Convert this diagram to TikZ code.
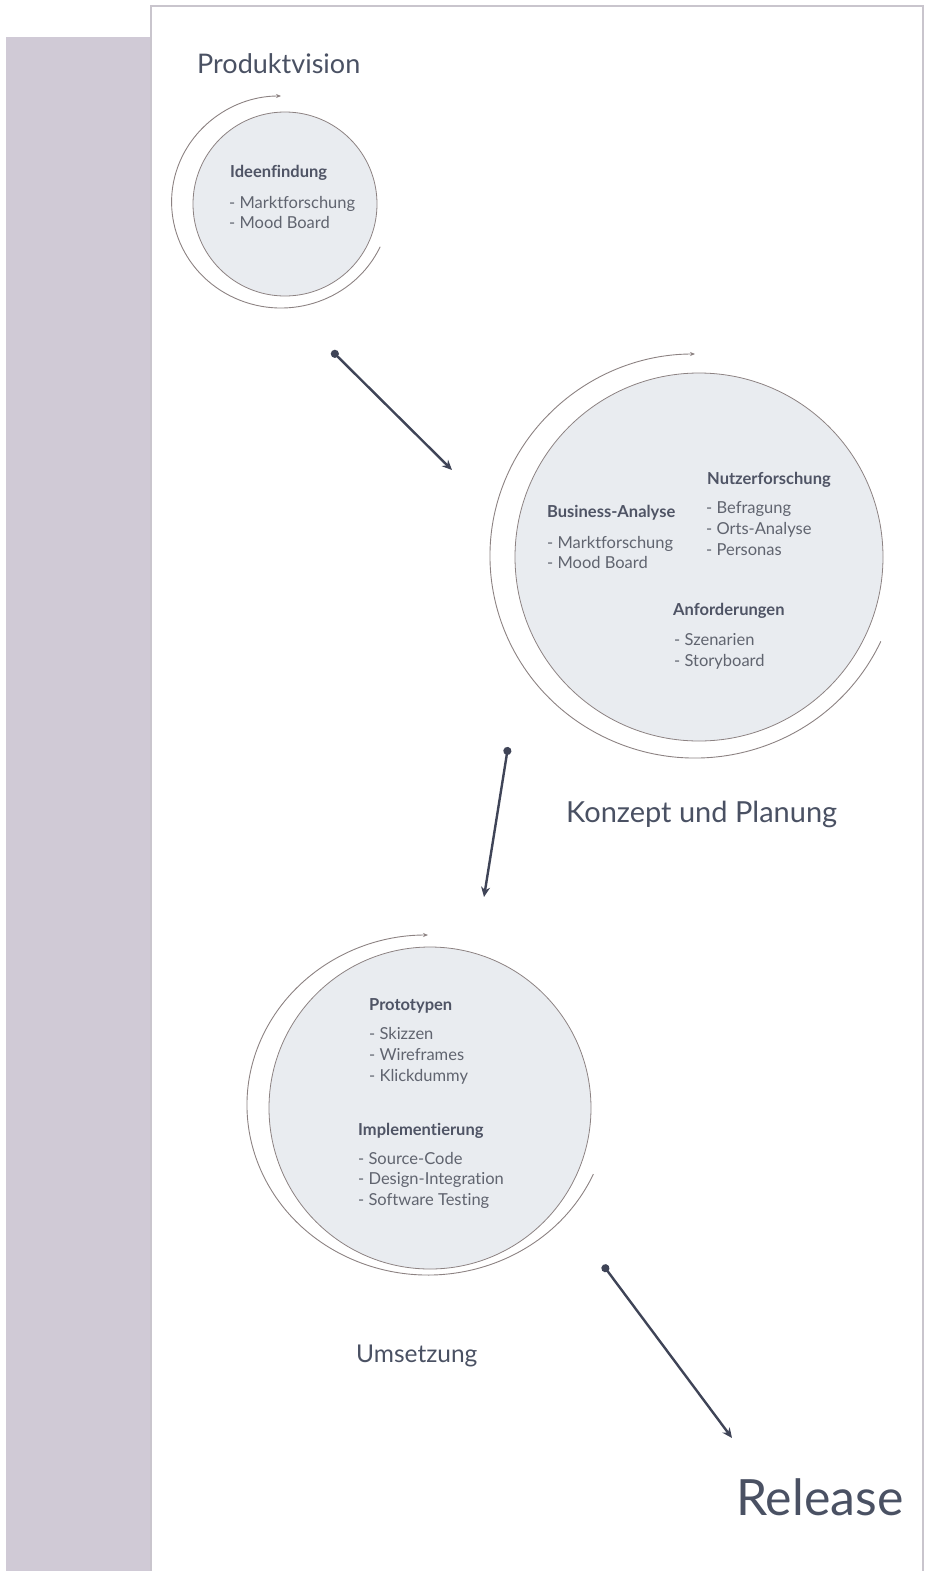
\documentclass[tikz,border=0pt]{standalone}
\usepackage{fontspec}
\setmainfont{Lato}[Ligatures=NoCommon]
\usetikzlibrary{arrows.meta}
\definecolor{side}{HTML}{D0CAD6}
\definecolor{panelline}{HTML}{C9C5CD}
\definecolor{circfill}{HTML}{E9ECF0}
\definecolor{circline}{HTML}{8C8282}
\definecolor{arrowcol}{HTML}{3F4457}
\definecolor{bigtext}{HTML}{4A5163}
\definecolor{headtext}{HTML}{4F5465}
\definecolor{itemtext}{HTML}{60646F}
\begin{document}
\begin{tikzpicture}[x=1pt,y=1pt,
  phase/.style={circle, draw=circline, line width=0.8pt, fill=circfill, inner sep=0pt},
  ring/.style={draw=circline, line width=0.9pt, -{Stealth[length=5pt,width=4pt]}},
  flow/.style={draw=arrowcol, line width=2.4pt, {Circle[length=8pt]}-{Stealth[length=10pt,width=9pt]}},
  biglabel/.style={anchor=base west, inner sep=0pt, text=bigtext},
  head/.style={anchor=base west, inner sep=0pt, text=headtext, font=\fontsize{16.5}{19}\selectfont\bfseries},
  item/.style={anchor=base west, inner sep=0pt, text=itemtext, font=\fontsize{16.5}{19}\selectfont}
]
\useasboundingbox (0,0) rectangle (924,-1571);
% sidebar and panel
\fill[side] (6,-37) rectangle (150,-1571);
\draw[panelline, line width=1.5pt] (923,-1571) -- (923,-6) -- (150.8,-6) -- (150.8,-1571);

% ---------- Produktvision ----------
\node[biglabel, font=\fontsize{27}{30}\selectfont] (pv) at (197,-74) {Produktvision};
\coordinate (o1) at (281,-202);
\draw[ring] (o1) ++(-25:109.4 and 106) arc[start angle=-25, end angle=-270, x radius=109.4, y radius=106];
\node[phase, minimum size=184pt] (c1) at (285,-204) {};
\node[head] (h1) at (230,-177) {Ideenfindung};
\node[item] (i11) at (229,-208) {- Marktforschung};
\node[item] (i12) at (229,-228) {- Mood Board};

% ---------- Konzept und Planung ----------
\coordinate (o2) at (695,-556);
\draw[ring] (o2) ++(-25:205 and 202) arc[start angle=-25, end angle=-270, x radius=205, y radius=202];
\node[phase, minimum size=368pt] (c2) at (699,-557) {};
\node[head] (h21) at (547,-517) {Business-Analyse};
\node[item] (i211) at (547,-548) {- Marktforschung};
\node[item] (i212) at (547,-568) {- Mood Board};
\node[head] (h22) at (707,-484) {Nutzerforschung};
\node[item] (i221) at (706,-513) {- Befragung};
\node[item] (i222) at (706,-534) {- Orts-Analyse};
\node[item] (i223) at (706,-555) {- Personas};
\node[head] (h23) at (673,-615) {Anforderungen};
\node[item] (i231) at (674,-645) {- Szenarien};
\node[item] (i232) at (674,-666) {- Storyboard};
\node[biglabel, font=\fontsize{29}{32}\selectfont] (kp) at (566,-822) {Konzept und Planung};

% ---------- Umsetzung ----------
\coordinate (o3) at (428,-1105);
\draw[ring] (o3) ++(-24:181 and 170) arc[start angle=-24, end angle=-270, x radius=181, y radius=170];
\node[phase, minimum size=322pt] (c3) at (430,-1108) {};
\node[head] (h31) at (369,-1010) {Prototypen};
\node[item] (i311) at (369,-1039) {- Skizzen};
\node[item] (i312) at (369,-1060) {- Wireframes};
\node[item] (i313) at (369,-1081) {- Klickdummy};
\node[head] (h32) at (358,-1135) {Implementierung};
\node[item] (i321) at (358,-1164) {- Source-Code};
\node[item] (i322) at (358,-1184) {- Design-Integration};
\node[item] (i323) at (358,-1205) {- Software Testing};
\node[biglabel, font=\fontsize{24.5}{28}\selectfont] (um) at (356,-1362) {Umsetzung};

% ---------- Release ----------
\node[biglabel, font=\fontsize{50}{54}\selectfont] (rel) at (736,-1515) {Release};

% ---------- flow arrows ----------
\coordinate (a1s) at (332,-351);
\coordinate (a1e) at (452,-470);
\coordinate (a2s) at (508,-747);
\coordinate (a2e) at (484,-897);
\coordinate (a3s) at (603,-1265);
\coordinate (a3e) at (732,-1438);
\draw[flow] (a1s) -- (a1e);
\draw[flow] (a2s) -- (a2e);
\draw[flow] (a3s) -- (a3e);
\end{tikzpicture}
\end{document}
